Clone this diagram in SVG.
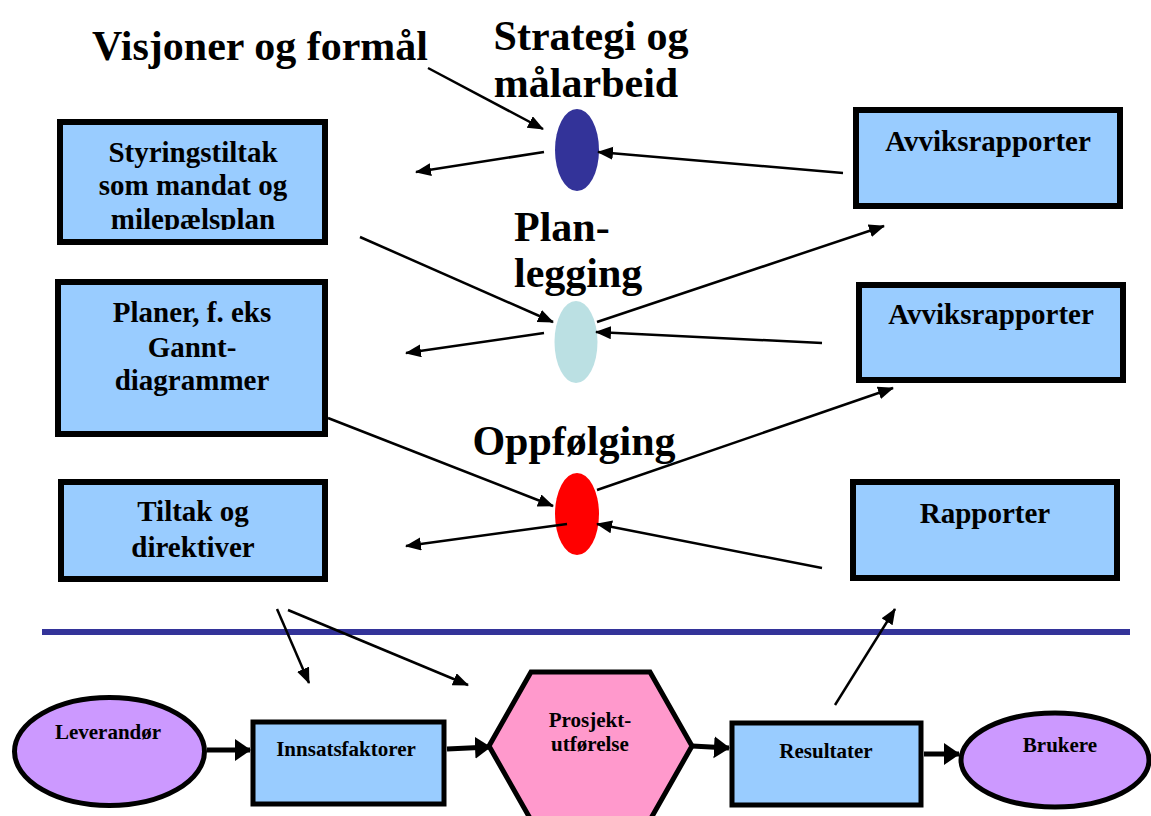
<svg xmlns="http://www.w3.org/2000/svg" width="1151" height="816" viewBox="0 0 1151 816">
  <style>
    .box { fill: #99CCFF; stroke: #000; stroke-width: 6; }
    .sbox { fill: #99CCFF; stroke: #000; stroke-width: 5; }
    .actor { fill: #CC99FF; stroke: #000; stroke-width: 5; }
    .lbl { font-family: "Liberation Serif", "Times New Roman", serif; font-weight: bold; fill: #000; text-anchor: middle; }
    .big { font-size: 42px; }
    .mid { font-size: 29px; }
    .small { font-size: 21px; }
    .thin { stroke: #000; stroke-width: 2.5; fill: none; marker-end: url(#head); }
    .thick { stroke: #000; stroke-width: 5; fill: none; marker-end: url(#headBig); }
  </style>
  <defs>
    <marker id="head" markerUnits="userSpaceOnUse" markerWidth="17" markerHeight="14" refX="15" refY="6.5" orient="auto">
      <path d="M0,0 L16,6.5 L0,13 z" fill="#000"/>
    </marker>
    <marker id="headBig" markerUnits="userSpaceOnUse" markerWidth="18" markerHeight="23" refX="15" refY="11" orient="auto">
      <path d="M0,0 L16,11 L0,22 z" fill="#000"/>
    </marker>
    <clipPath id="clipStyring">
      <rect x="63" y="125" width="259" height="105"/>
    </clipPath>
  </defs>

  <rect width="1151" height="816" fill="#fff"/>

  <!-- free-standing headings -->
  <g id="heading-visjoner">
    <text class="lbl big" x="260" y="60">Visjoner og formål</text>
  </g>
  <g id="heading-strategi">
    <text class="lbl big" x="591" y="50">Strategi og</text>
    <text class="lbl big" x="586" y="97">målarbeid</text>
  </g>
  <g id="heading-planlegging">
    <text class="lbl big" x="514" y="241" style="text-anchor:start">Plan-</text>
    <text class="lbl big" x="514" y="287" style="text-anchor:start">legging</text>
  </g>
  <g id="heading-oppfolging">
    <text class="lbl big" x="574" y="455">Oppfølging</text>
  </g>

  <!-- control hubs -->
  <g id="hub-strategi">
    <ellipse cx="577" cy="150" rx="22" ry="41" fill="#333399"/>
  </g>
  <g id="hub-planlegging">
    <ellipse cx="576" cy="342" rx="21.5" ry="41" fill="#BBE0E3"/>
  </g>
  <g id="hub-oppfolging">
    <ellipse cx="577" cy="514" rx="22" ry="41" fill="#FF0000"/>
  </g>

  <!-- left column -->
  <g id="node-styringstiltak">
    <rect class="box" x="60" y="122" width="265" height="120"/>
    <g clip-path="url(#clipStyring)">
      <text class="lbl mid" x="193" y="162">Styringstiltak</text>
      <text class="lbl mid" x="193" y="195">som mandat og</text>
      <text class="lbl mid" x="193" y="229">milepælsplan</text>
    </g>
  </g>
  <g id="node-planer">
    <rect class="box" x="58" y="282" width="267" height="152"/>
    <text class="lbl mid" x="192" y="322">Planer, f. eks</text>
    <text class="lbl mid" x="192" y="357">Gannt-</text>
    <text class="lbl mid" x="192" y="390">diagrammer</text>
  </g>
  <g id="node-tiltak">
    <rect class="box" x="61" y="482" width="264" height="97"/>
    <text class="lbl mid" x="193" y="521">Tiltak og</text>
    <text class="lbl mid" x="193" y="557">direktiver</text>
  </g>

  <!-- right column -->
  <g id="node-avvik-1">
    <rect class="box" x="856" y="110" width="264" height="96"/>
    <text class="lbl mid" x="988" y="151">Avviksrapporter</text>
  </g>
  <g id="node-avvik-2">
    <rect class="box" x="859" y="285" width="264" height="95"/>
    <text class="lbl mid" x="991" y="324">Avviksrapporter</text>
  </g>
  <g id="node-rapporter">
    <rect class="box" x="853" y="482" width="264" height="96"/>
    <text class="lbl mid" x="985" y="523">Rapporter</text>
  </g>

  <!-- divider between control and execution -->
  <line x1="42" y1="632" x2="1130" y2="632" stroke="#333399" stroke-width="6"/>

  <!-- execution chain -->
  <g id="node-leverandor">
    <ellipse class="actor" cx="109.5" cy="751.5" rx="95" ry="54"/>
    <text class="lbl small" x="108" y="739">Leverandør</text>
  </g>
  <g id="node-innsatsfaktorer">
    <rect class="sbox" x="253" y="722" width="191" height="82"/>
    <text class="lbl small" x="346" y="756">Innsatsfaktorer</text>
  </g>
  <g id="node-prosjekt">
    <polygon points="489,746 531,672 650,672 692,746 650,820 531,820" fill="#FF99CC" stroke="#000" stroke-width="5" stroke-linejoin="miter"/>
    <text class="lbl small" x="590" y="727">Prosjekt-</text>
    <text class="lbl small" x="590" y="751">utførelse</text>
  </g>
  <g id="node-resultater">
    <rect class="sbox" x="732" y="723" width="189" height="82"/>
    <text class="lbl small" x="826" y="758">Resultater</text>
  </g>
  <g id="node-brukere">
    <ellipse class="actor" cx="1055" cy="760" rx="94" ry="47"/>
    <text class="lbl small" x="1060" y="752">Brukere</text>
  </g>

  <g id="connectors">
    <!-- strategy level -->
    <line class="thin" x1="428" y1="68" x2="543" y2="129"/>
    <line class="thin" x1="544" y1="152" x2="416" y2="172"/>
    <line class="thin" x1="843" y1="173" x2="598" y2="152"/>
    <!-- planning level -->
    <line class="thin" x1="360" y1="237" x2="553" y2="322"/>
    <line class="thin" x1="597" y1="322" x2="884" y2="226"/>
    <line class="thin" x1="544" y1="333" x2="406" y2="353"/>
    <line class="thin" x1="822" y1="343" x2="596" y2="332"/>
    <!-- follow-up level -->
    <line class="thin" x1="328" y1="418" x2="553" y2="506"/>
    <line class="thin" x1="597" y1="490" x2="893" y2="388"/>
    <line class="thin" x1="567" y1="524" x2="406" y2="546"/>
    <line class="thin" x1="822" y1="568" x2="597" y2="524"/>
    <!-- control down to execution, results up to reports -->
    <line class="thin" x1="277" y1="609" x2="309" y2="683"/>
    <line class="thin" x1="288" y1="610" x2="468" y2="685"/>
    <line class="thin" x1="835" y1="705" x2="895" y2="609"/>
    <!-- execution chain -->
    <line class="thick" x1="207" y1="750" x2="250" y2="750"/>
    <line class="thick" x1="447" y1="749" x2="490" y2="747"/>
    <line class="thick" x1="692" y1="746" x2="729" y2="748"/>
    <line class="thick" x1="924" y1="754" x2="959" y2="754"/>
  </g>
</svg>
